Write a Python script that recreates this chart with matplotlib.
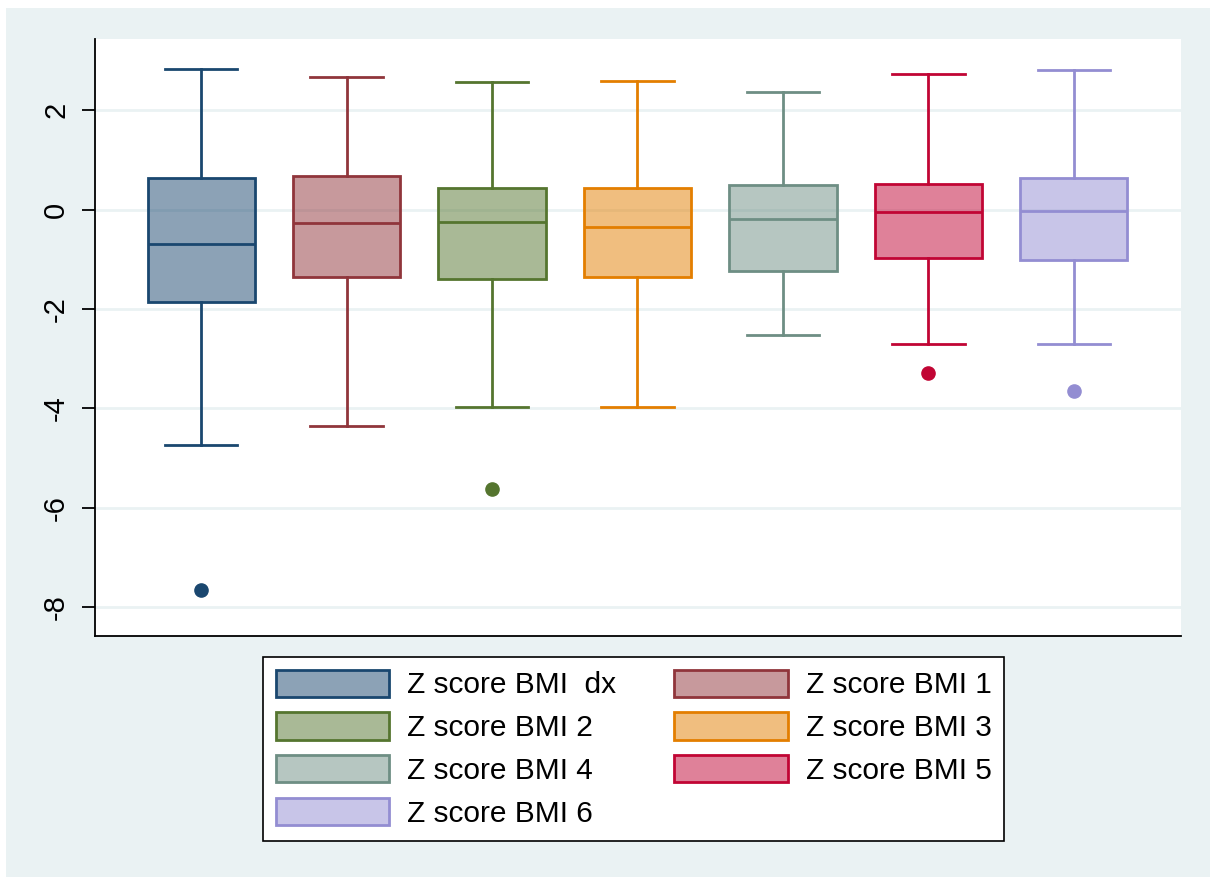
import matplotlib
matplotlib.use("Agg")
import matplotlib.pyplot as plt
from matplotlib.patches import Patch, Rectangle

# ---- data ----
labels = ["Z score BMI  dx", "Z score BMI 1", "Z score BMI 2", "Z score BMI 3",
          "Z score BMI 4", "Z score BMI 5", "Z score BMI 6"]
whisker_hi = [2.83, 2.67, 2.56, 2.58, 2.36, 2.73, 2.80]
q3 = [0.64, 0.68, 0.44, 0.44, 0.50, 0.51, 0.64]
medians = [-0.70, -0.27, -0.26, -0.36, -0.20, -0.05, -0.03]
q1 = [-1.87, -1.35, -1.39, -1.35, -1.24, -0.97, -1.02]
whisker_lo = [-4.74, -4.35, -3.98, -3.98, -2.53, -2.70, -2.70]
outliers = [[-7.65], [], [-5.62], [], [], [-3.29], [-3.66]]
y_ticks = [-8, -6, -4, -2, 0, 2]

edge_colors = ["#1A476F", "#90353B", "#55752F", "#E37E00",
               "#6E8E84", "#C10534", "#938DD2"]

W, H = 1210, 877
fig = plt.figure(figsize=(W / 100, H / 100), dpi=100, facecolor="white")
plt.rcParams["font.family"] = ["Liberation Sans", "DejaVu Sans"]

# outer Stata-like background
fig.patches.append(Rectangle((6 / W, 0), 1 - 6 / W, 1 - 8 / H,
                             transform=fig.transFigure, facecolor="#EAF2F3",
                             edgecolor="none", zorder=-10))

left, right, top, bottom = 95 / W, 1181 / W, 1 - 39 / H, 1 - 636 / H
ax = fig.add_axes([left, bottom, right - left, top - bottom])
ax.set_facecolor("white")

stats = []
for i in range(len(labels)):
    stats.append(dict(med=medians[i], q1=q1[i], q3=q3[i],
                      whislo=whisker_lo[i], whishi=whisker_hi[i],
                      fliers=outliers[i], label=labels[i]))

positions = list(range(1, len(labels) + 1))
for i, st in enumerate(stats):
    c = edge_colors[i]
    ax.bxp([st], positions=[positions[i]], widths=0.736, capwidths=0.50,
           patch_artist=True,
           boxprops=dict(facecolor=matplotlib.colors.to_rgba(c, 0.5),
                         edgecolor=c, linewidth=2.0),
           medianprops=dict(color=c, linewidth=2.0),
           whiskerprops=dict(color=c, linewidth=2.0),
           capprops=dict(color=c, linewidth=2.0),
           flierprops=dict(marker="o", markerfacecolor=c, markeredgecolor=c,
                           markersize=9.5, linestyle="none"),
           zorder=3)

ax.set_xlim(0.271, 7.736)
ax.set_ylim(-8.58, 3.43)
ax.set_xticks([])
ax.set_yticks(y_ticks)
ax.set_yticklabels([str(v) for v in y_ticks], rotation=90, va="center",
                   fontsize=21)
ax.tick_params(axis="y", length=9.5, width=1.3, pad=8.5, color="black")
ax.yaxis.grid(True, color="#EAF2F3", linewidth=2.0, zorder=0)
ax.set_axisbelow(True)
for s in ["top", "right"]:
    ax.spines[s].set_visible(False)
for s in ["left", "bottom"]:
    ax.spines[s].set_color("black")
    ax.spines[s].set_linewidth(1.3)

# legend: row-major order in reference -> column-major for matplotlib
handles = [Patch(facecolor=matplotlib.colors.to_rgba(c, 0.5), edgecolor=c,
                 linewidth=2.0) for c in edge_colors]
order = [0, 2, 4, 6, 1, 3, 5]
leg = fig.legend([handles[k] for k in order], [labels[k] for k in order],
                 ncol=2, loc="upper left",
                 bbox_to_anchor=(263 / W, 1 - 657 / H),
                 bbox_transform=fig.transFigure, borderaxespad=0,
                 fontsize=21.5, handlelength=3.8, handleheight=1.02,
                 handletextpad=0.6, columnspacing=1.95, labelspacing=0.44,
                 borderpad=0.42, frameon=True, fancybox=False, framealpha=1.0)
leg.get_frame().set_edgecolor("black")
leg.get_frame().set_linewidth(1.2)
leg.get_frame().set_facecolor("white")

fig.savefig("out.png", dpi=100, facecolor=fig.get_facecolor())
